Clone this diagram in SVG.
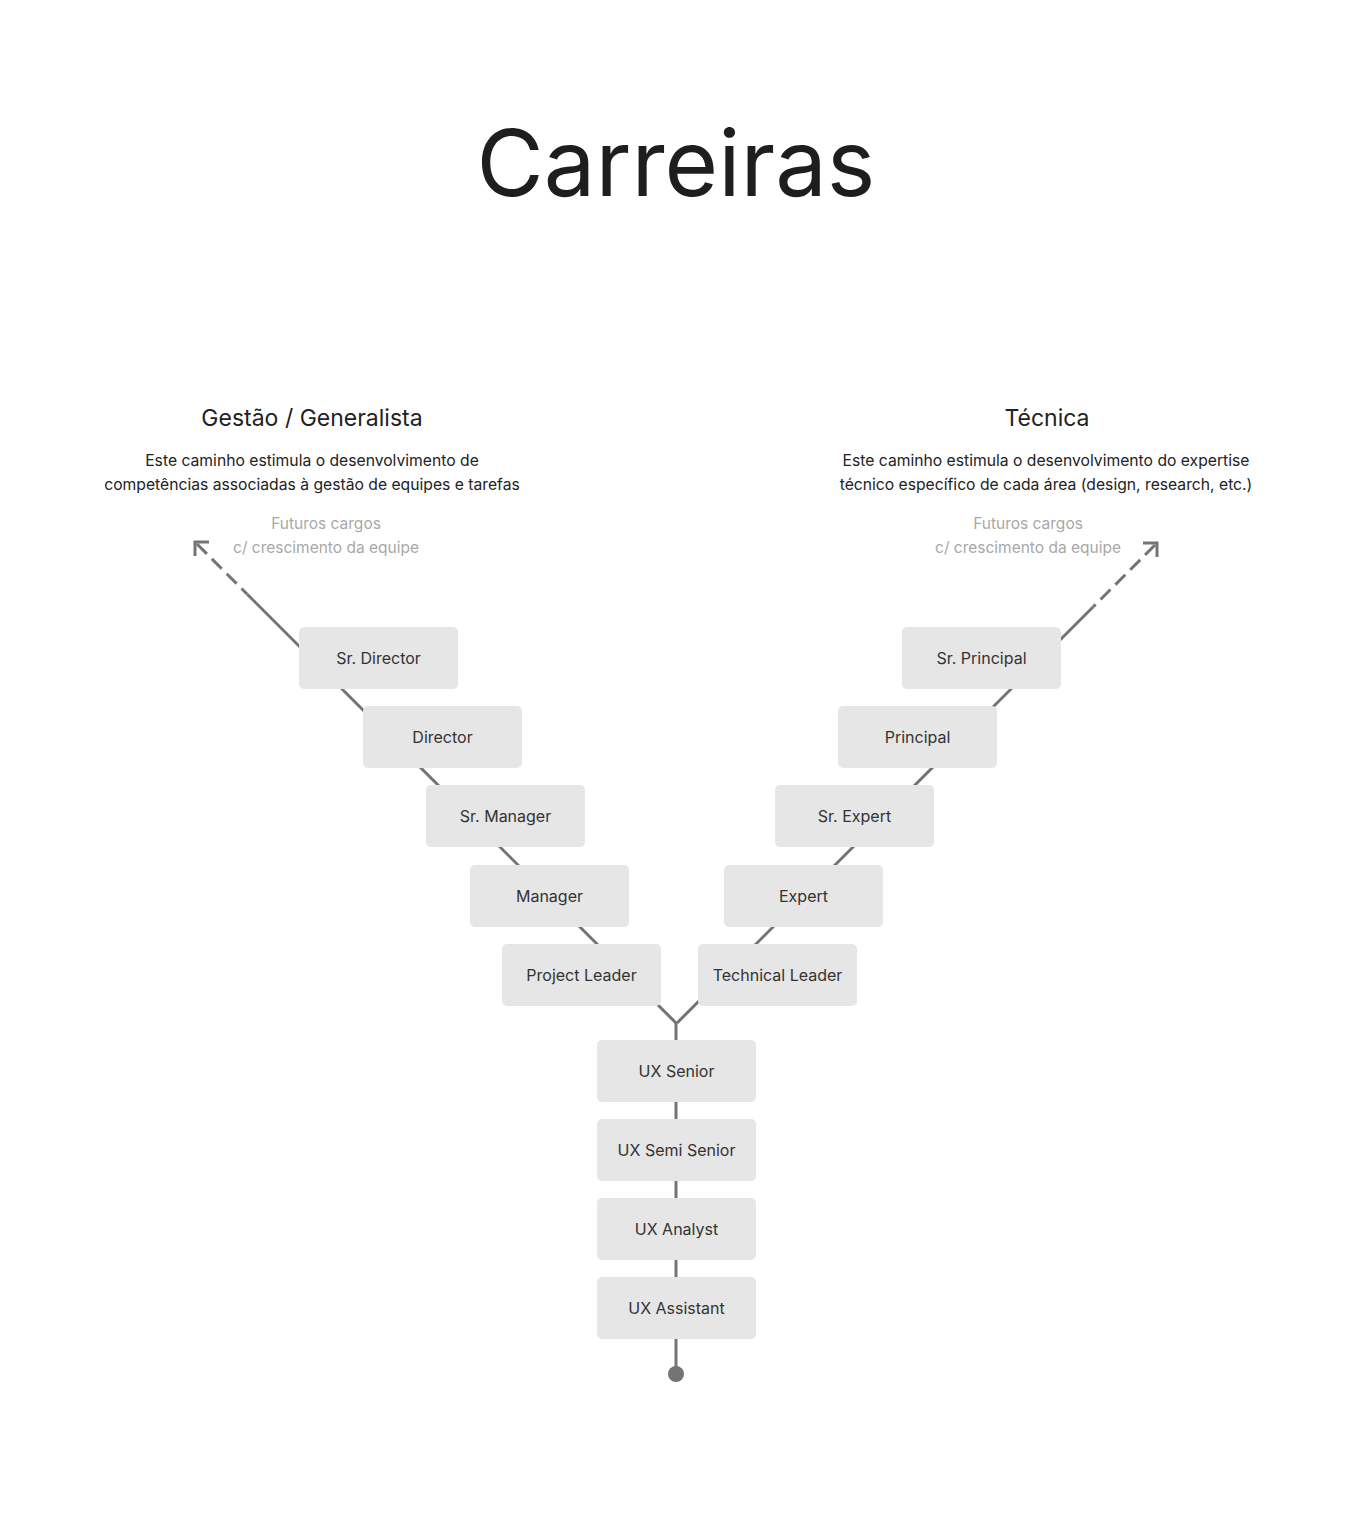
<svg xmlns="http://www.w3.org/2000/svg" width="1368" height="1536" viewBox="0 0 1368 1536">
<style>
text{font-family:Inter,"Noto Sans","Liberation Sans",sans-serif;text-anchor:middle}
.title{font-size:92px;fill:#1e1e1e;letter-spacing:0px}
.h{font-size:23px;fill:#222}
.d{font-size:15.7px;fill:#222}
.f{font-size:15.5px;fill:#a8a8a8}
.box{fill:#e6e6e6}
.lbl{font-size:16px;fill:#333}
.ln{stroke:#747474;stroke-width:3;fill:none}
.dash{stroke-dasharray:14 7}
</style>
<rect width="1368" height="1536" fill="#fff"/>
<text class="title" x="676" y="196">Carreiras</text>
<g id="header-left">
<text class="h" x="312" y="426">Gestão / Generalista</text>
<text class="d" x="312" y="466">Este caminho estimula o desenvolvimento de</text>
<text class="d" x="312" y="490">competências associadas à gestão de equipes e tarefas</text>
<text class="f" x="326" y="529">Futuros cargos</text>
<text class="f" x="326" y="553">c/ crescimento da equipe</text>
</g>
<g id="header-right">
<text class="h" x="1047" y="426">Técnica</text>
<text class="d" x="1046" y="466">Este caminho estimula o desenvolvimento do expertise</text>
<text class="d" x="1046" y="490">técnico específico de cada área (design, research, etc.)</text>
<text class="f" x="1028" y="529">Futuros cargos</text>
<text class="f" x="1028" y="553">c/ crescimento da equipe</text>
</g>
<g id="connectors">
<path class="ln dash" d="M197 544 L247 594"/>
<path class="ln" d="M247 594 L676 1023"/>
<path class="ln dash" d="M1155 545 L1093 607"/>
<path class="ln" d="M1093 607 L677 1023"/>
<path class="ln" d="M676 1022 L676 1374"/>
<polyline class="ln" points="195,556 195,542 209,542"/>
<polyline class="ln" points="1143,543 1157,543 1157,557"/>
<circle cx="676" cy="1374" r="8" fill="#747474"/>
</g>
<g id="n-sr-director"><rect class="box" x="299" y="627" width="159" height="62" rx="5"/><text class="lbl" x="378.5" y="664">Sr. Director</text></g>
<g id="n-director"><rect class="box" x="363" y="706" width="159" height="62" rx="5"/><text class="lbl" x="442.5" y="743">Director</text></g>
<g id="n-sr-manager"><rect class="box" x="426" y="785" width="159" height="62" rx="5"/><text class="lbl" x="505.5" y="822">Sr. Manager</text></g>
<g id="n-manager"><rect class="box" x="470" y="865" width="159" height="62" rx="5"/><text class="lbl" x="549.5" y="902">Manager</text></g>
<g id="n-project-leader"><rect class="box" x="502" y="944" width="159" height="62" rx="5"/><text class="lbl" x="581.5" y="981">Project Leader</text></g>
<g id="n-technical-leader"><rect class="box" x="698" y="944" width="159" height="62" rx="5"/><text class="lbl" x="777.5" y="981">Technical Leader</text></g>
<g id="n-expert"><rect class="box" x="724" y="865" width="159" height="62" rx="5"/><text class="lbl" x="803.5" y="902">Expert</text></g>
<g id="n-sr-expert"><rect class="box" x="775" y="785" width="159" height="62" rx="5"/><text class="lbl" x="854.5" y="822">Sr. Expert</text></g>
<g id="n-principal"><rect class="box" x="838" y="706" width="159" height="62" rx="5"/><text class="lbl" x="917.5" y="743">Principal</text></g>
<g id="n-sr-principal"><rect class="box" x="902" y="627" width="159" height="62" rx="5"/><text class="lbl" x="981.5" y="664">Sr. Principal</text></g>
<g id="n-ux-senior"><rect class="box" x="597" y="1040" width="159" height="62" rx="5"/><text class="lbl" x="676.5" y="1077">UX Senior</text></g>
<g id="n-ux-semi-senior"><rect class="box" x="597" y="1119" width="159" height="62" rx="5"/><text class="lbl" x="676.5" y="1156">UX Semi Senior</text></g>
<g id="n-ux-analyst"><rect class="box" x="597" y="1198" width="159" height="62" rx="5"/><text class="lbl" x="676.5" y="1235">UX Analyst</text></g>
<g id="n-ux-assistant"><rect class="box" x="597" y="1277" width="159" height="62" rx="5"/><text class="lbl" x="676.5" y="1314">UX Assistant</text></g>
</svg>
